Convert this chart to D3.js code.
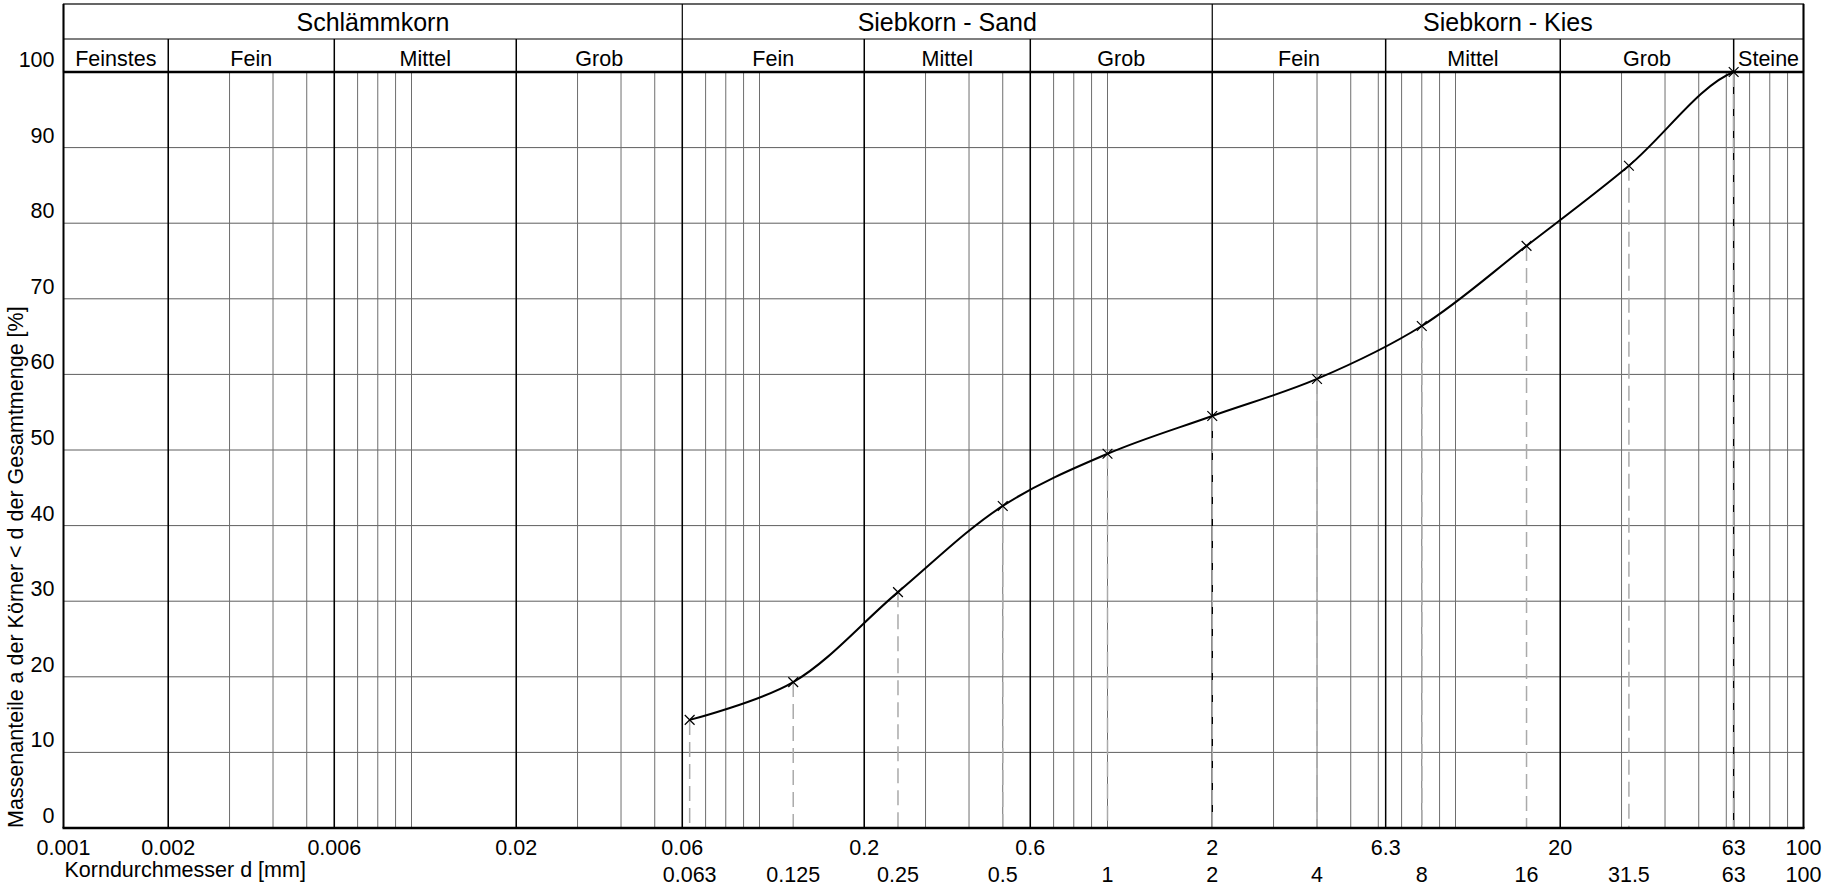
<!DOCTYPE html>
<html>
<head>
<meta charset="utf-8">
<script src="https://cdn.jsdelivr.net/npm/d3@7"></script>
<style>
    body{margin:0;background:#fff;}
    svg{display:block;font-family:"Liberation Sans",Arial,sans-serif;}
</style>
</head>
<body>
<svg id="canvas-svg-sieve" width="1829" height="889"></svg>
<script>
var sieveSizes = [0.063, 0.125, 0.25, 0.5, 1, 2, 4, 8, 16, 31.5, 63];
var passing = [14.3, 19.3, 31.2, 42.6, 49.5, 54.5, 59.4, 66.4, 77.0, 87.6, 100];
// 100 mm lets everything through; only used to shape the end of the curve
var tailSize = 100, tailPassing = 100;

var boundaryTicks = [0.001, 0.002, 0.006, 0.02, 0.06, 0.2, 0.6, 2, 6.3, 20, 63, 100];
var boundaryLabels = ['0.001', '0.002', '0.006', '0.02', '0.06', '0.2', '0.6', '2', '6.3', '20', '63', '100'];
var sieveTicks = [0.063, 0.125, 0.25, 0.5, 1, 2, 4, 8, 16, 31.5, 63, 100];
var sieveLabels = ['0.063', '0.125', '0.25', '0.5', '1', '2', '4', '8', '16', '31.5', '63', '100'];
var yTicks = [0, 10, 20, 30, 40, 50, 60, 70, 80, 90, 100];

var groupLabels = ['Schlämmkorn', 'Siebkorn - Sand', 'Siebkorn - Kies'];
var groupEdges = [0.001, 0.06, 2, 100];
var fractionLabels = ['Feinstes', 'Fein', 'Mittel', 'Grob', 'Fein', 'Mittel', 'Grob', 'Fein', 'Mittel', 'Grob', 'Steine'];
var fractionEdges = [0.001, 0.002, 0.006, 0.02, 0.06, 0.2, 0.6, 2, 6.3, 20, 63, 100];

var svg = d3.select('#canvas-svg-sieve');
var width = +svg.attr('width');
var height = +svg.attr('height');
var margin = {left: 63.5, right: 25.5, top: 72, bottom: 61};
var headTop = 4, headMid = 39;

var x = d3.scaleLog().domain([0.001, 100]).range([margin.left, width - margin.right]);
var y = d3.scaleLinear().domain([0, 100]).range([height - margin.bottom, margin.top]);
var x0 = x.range()[0], x1 = x.range()[1], yB = y(0), yT = y(100);

var grid = svg.append('g');
grid.selectAll('.hgrid').data(yTicks.filter(d => d > 0 && d < 100)).enter().append('line')
    .attr('class', 'hgrid')
    .attr('x1', x0).attr('x2', x1)
    .attr('y1', d => y(d)).attr('y2', d => y(d))
    .style('stroke', '#5e5e5e').style('stroke-width', 1);

grid.selectAll('.vminor').data(x.ticks().filter(d => d > 0.001 && d < 100)).enter().append('line')
    .attr('class', 'vminor')
    .attr('x1', d => x(d)).attr('x2', d => x(d))
    .attr('y1', yT).attr('y2', yB)
    .style('stroke', '#6e6e6e').style('stroke-width', 1);

grid.selectAll('.vmajor').data(fractionEdges.slice(1, -1)).enter().append('line')
    .attr('class', 'vmajor')
    .attr('x1', d => x(d)).attr('x2', d => x(d))
    .attr('y1', headMid).attr('y2', yB)
    .style('stroke', '#000').style('stroke-width', 1.5);

// header boxes
var head = svg.append('g');
head.append('rect')
    .attr('x', x0).attr('y', headTop)
    .attr('width', x1 - x0).attr('height', yT - headTop)
    .style('fill', 'none').style('stroke', '#000').style('stroke-width', 1.2);
head.append('line')
    .attr('x1', x0).attr('x2', x1).attr('y1', headMid).attr('y2', headMid)
    .style('stroke', '#000').style('stroke-width', 1.2);
head.selectAll('.gsep').data(groupEdges.slice(1, -1)).enter().append('line')
    .attr('class', 'gsep')
    .attr('x1', d => x(d)).attr('x2', d => x(d))
    .attr('y1', headTop).attr('y2', headMid)
    .style('stroke', '#000').style('stroke-width', 1.2);
head.selectAll('.glabel').data(groupLabels).enter().append('text')
    .attr('class', 'glabel')
    .attr('x', (d, i) => (x(groupEdges[i]) + x(groupEdges[i + 1])) / 2)
    .attr('y', 30.5)
    .attr('text-anchor', 'middle')
    .style('font-size', '25px')
    .text(d => d);
head.selectAll('.flabel').data(fractionLabels).enter().append('text')
    .attr('class', 'flabel')
    .attr('x', (d, i) => (x(fractionEdges[i]) + x(fractionEdges[i + 1])) / 2)
    .attr('y', 66)
    .attr('text-anchor', 'middle')
    .style('font-size', '21.5px')
    .text(d => d);

// drop lines from each sieve point
var pts = sieveSizes.map((s, i) => ({size: s, pass: passing[i]}));
svg.append('g').selectAll('.drop').data(pts).enter().append('line')
    .attr('class', 'drop')
    .attr('x1', d => x(d.size)).attr('x2', d => x(d.size))
    .attr('y1', d => y(d.pass)).attr('y2', yB)
    .style('stroke', '#aaa').style('stroke-width', 1.5)
    .style('stroke-dasharray', '15,7');

svg.append('clipPath').attr('id', 'curve-clip')
    .append('rect').attr('x', 0).attr('y', 0)
    .attr('width', x(sieveSizes[sieveSizes.length - 1])).attr('height', height);

var line = d3.line()
    .x(d => x(d.size))
    .y(d => y(d.pass))
    .curve(d3.curveCatmullRom);
svg.append('path')
    .datum(pts.concat([{size: tailSize, pass: tailPassing}]))
    .attr('d', line)
    .attr('clip-path', 'url(#curve-clip)')
    .style('fill', 'none').style('stroke', '#000').style('stroke-width', 2);

svg.append('g').selectAll('.mark').data(pts).enter().append('path')
    .attr('class', 'mark')
    .attr('transform', d => `translate(${x(d.size)},${y(d.pass)})`)
    .attr('d', d3.symbol().type(d3.symbolX).size(64))
    .style('fill', 'none').style('stroke', '#000').style('stroke-width', 1.2);

// frame
var frame = svg.append('g');
frame.append('line').attr('x1', x0).attr('x2', x1).attr('y1', yT).attr('y2', yT)
    .style('stroke', '#000').style('stroke-width', 2.5);
frame.append('line').attr('x1', x0 - 1).attr('x2', x1 + 1).attr('y1', yB).attr('y2', yB)
    .style('stroke', '#000').style('stroke-width', 2.5);
frame.append('line').attr('x1', x0).attr('x2', x0).attr('y1', headTop).attr('y2', yB)
    .style('stroke', '#000').style('stroke-width', 2);
frame.append('line').attr('x1', x1).attr('x2', x1).attr('y1', headTop).attr('y2', yB)
    .style('stroke', '#000').style('stroke-width', 2);

// axis labels
svg.append('g').selectAll('.ylab').data(yTicks).enter().append('text')
    .attr('class', 'ylab')
    .attr('x', x0 - 9).attr('y', d => y(d) - 5)
    .attr('text-anchor', 'end')
    .style('font-size', '21.5px')
    .text(d => d);
svg.append('g').selectAll('.xlab').data(boundaryTicks).enter().append('text')
    .attr('class', 'xlab')
    .attr('x', d => x(d)).attr('y', 855)
    .attr('text-anchor', 'middle')
    .style('font-size', '21.5px')
    .text((d, i) => boundaryLabels[i]);
svg.append('g').selectAll('.slab').data(sieveTicks).enter().append('text')
    .attr('class', 'slab')
    .attr('x', d => x(d)).attr('y', 882)
    .attr('text-anchor', 'middle')
    .style('font-size', '21.5px')
    .text((d, i) => sieveLabels[i]);

svg.append('text').text('Korndurchmesser d [mm]')
    .attr('x', x0 + 1).attr('y', 877)
    .style('font-size', '21.5px');
svg.append('text').text('Massenanteile a der Körner < d der Gesamtmenge [%]')
    .attr('transform', `translate(23,${yB}) rotate(-90)`)
    .style('font-size', '21.5px');
</script>
</body>
</html>
